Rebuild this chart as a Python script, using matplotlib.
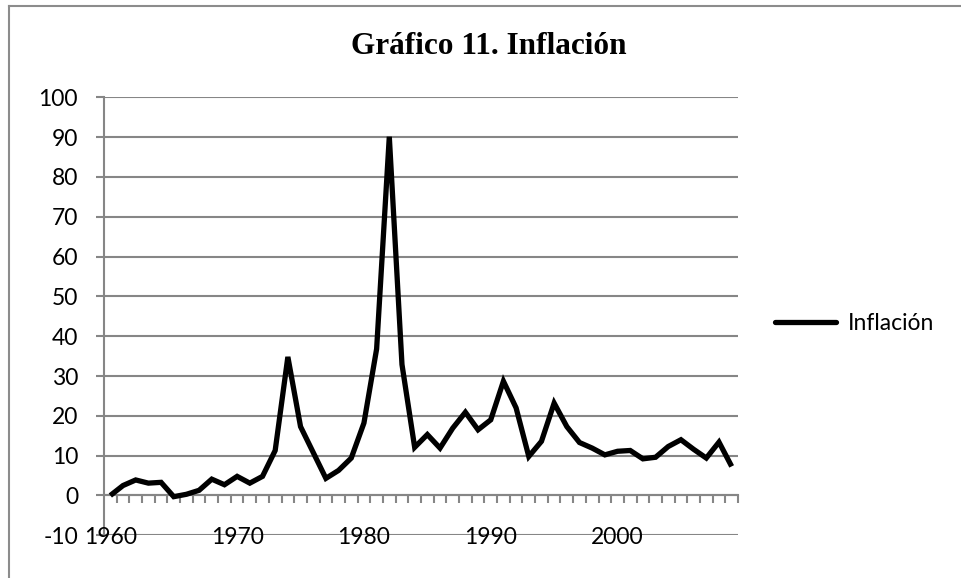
import matplotlib
matplotlib.use("Agg")
import matplotlib.pyplot as plt
from matplotlib.lines import Line2D
import numpy as np

years = list(range(1960, 2010))
inflacion = [0.0, 2.5, 3.9, 3.1, 3.3, -0.3, 0.3, 1.3, 4.1, 2.7,
             4.8, 3.1, 4.8, 11.3, 34.8, 17.3, 10.8, 4.3, 6.3, 9.4,
             18.2, 36.8, 90.1, 32.9, 12.1, 15.3, 11.9, 16.9, 20.9, 16.5,
             19.0, 28.7, 22.0, 9.8, 13.6, 23.2, 17.3, 13.3, 11.9, 10.2,
             11.1, 11.3, 9.2, 9.6, 12.3, 14.0, 11.6, 9.4, 13.4, 7.3]
label_years = [1960, 1970, 1980, 1990, 2000]
y_ticks = list(range(-10, 101, 10))
title = "Gráfico 11. Inflación"
series_name = "Inflación"

W, H = 961, 578
fig = plt.figure(figsize=(W / 100, H / 100), dpi=100)
ax = fig.add_axes([104 / W, 1 - 535.3 / H, (738 - 104) / W, (535.3 - 97.3) / H])

grid_c = "#868686"
font = "Lato"
fs = 16.5

ax.plot(years, inflacion, color="black", lw=3.8, solid_joinstyle="miter",
        solid_capstyle="butt", label=series_name, zorder=5)

ax.set_xlim(years[0] - 0.5, years[-1] + 0.5)
ax.set_ylim(-10, 100)

for s in ["top", "right"]:
    ax.spines[s].set_visible(False)
ax.spines["left"].set_color(grid_c)
ax.spines["left"].set_linewidth(1.5)
ax.spines["bottom"].set_position(("data", 0))
ax.spines["bottom"].set_color(grid_c)
ax.spines["bottom"].set_linewidth(1.5)

ax.set_yticks(y_ticks)
ax.set_yticklabels([str(v) for v in y_ticks], fontfamily=font, fontsize=fs)
ax.tick_params(axis="y", direction="out", length=6, width=1.5, color=grid_c, pad=12.7)
for v in y_ticks:
    ax.axhline(v, color=grid_c, lw=1.5, zorder=1)

bounds = [y + 0.5 for y in years]
ax.set_xticks(bounds)
ax.set_xticklabels([])
ax.tick_params(axis="x", direction="out", length=5.5, width=1.5, color=grid_c)

for ly in label_years:
    ax.text(ly, -10.6, str(ly), ha="center", va="center", fontfamily=font,
            fontsize=fs, zorder=6)

fig.text(489 / W, 1 - 47 / H, title, ha="center", va="center",
         fontfamily="Liberation Serif", fontweight="bold", fontsize=22.5)

leg = fig.legend(handles=[Line2D([0], [0], color="black", lw=3.8, solid_capstyle="round")],
                 labels=[series_name], loc="center left",
                 bbox_to_anchor=(770 / W, 1 - 324 / H), frameon=False,
                 prop={"family": font, "size": fs}, handlelength=2.7,
                 handletextpad=0.5, borderpad=0.2, borderaxespad=0)

fig.add_artist(Line2D([8.5 / W, 8.5 / W], [0, 1 - 5.5 / H], color="#8c8c8c", lw=1.5,
                      transform=fig.transFigure))
fig.add_artist(Line2D([8.5 / W, 1], [1 - 5.5 / H, 1 - 5.5 / H], color="#8c8c8c", lw=1.5,
                      transform=fig.transFigure))

fig.savefig("out.png", dpi=100, facecolor="white")
